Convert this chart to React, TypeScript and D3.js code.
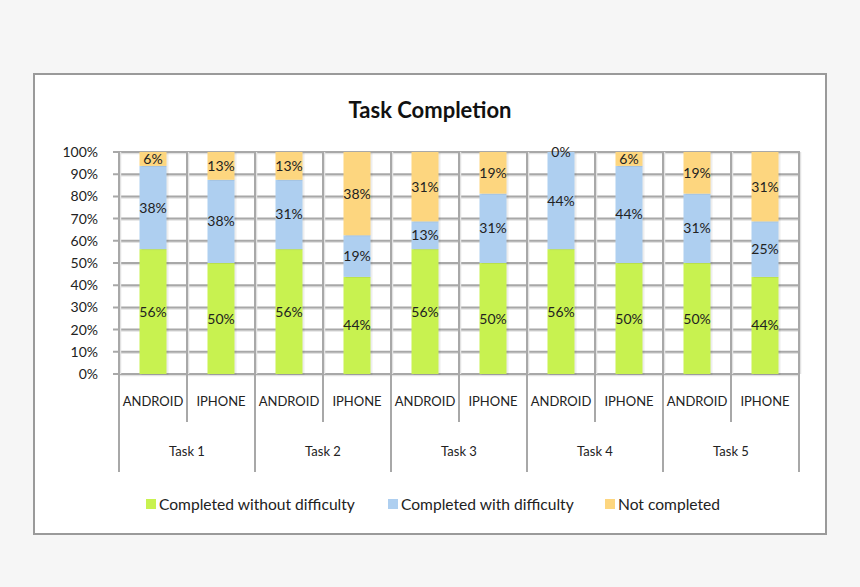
import React, { useEffect, useRef } from 'react';
import * as d3 from 'd3';

const tasks = ['Task 1', 'Task 2', 'Task 3', 'Task 4', 'Task 5'];
const devices = ['ANDROID', 'IPHONE'];
const seriesNames = ['Completed without difficulty', 'Completed with difficulty', 'Not completed'];
const seriesColors = ['#c8f250', '#aecff0', '#fdd67f'];

// percentages per bar, order: task1 android, task1 iphone, task2 android, ...
const withoutDifficulty = [56.25, 50, 56.25, 43.75, 56.25, 50, 56.25, 50, 50, 43.75];
const withDifficulty = [37.5, 37.5, 31.25, 18.75, 12.5, 31.25, 43.75, 43.75, 31.25, 25];
const notCompleted = [6.25, 12.5, 12.5, 37.5, 31.25, 18.75, 0, 6.25, 18.75, 31.25];

const yTicks = [0, 10, 20, 30, 40, 50, 60, 70, 80, 90, 100];

const FONT = 'Lato, "Open Sans", sans-serif';

const App: React.FC = () => {
    const svgRef = useRef<SVGSVGElement | null>(null);

    useEffect(() => {
        if (!svgRef.current) return;
        const svg = d3.select(svgRef.current);
        svg.selectAll('*').remove();

        const width = 860;
        const height = 587;
        const plot = { left: 119, right: 799, top: 152, bottom: 374 };

        svg.attr('width', width).attr('height', height);

        svg.append('rect').attr('width', width).attr('height', height).attr('fill', '#f6f6f6');
        svg.append('rect')
            .attr('x', 34).attr('y', 74).attr('width', 792).attr('height', 460)
            .attr('fill', '#ffffff').attr('stroke', '#9a9a9a').attr('stroke-width', 2);

        svg.append('text')
            .attr('x', 430).attr('y', 118)
            .attr('text-anchor', 'middle')
            .attr('font-family', FONT).attr('font-weight', 'bold').attr('font-size', 22)
            .attr('fill', '#111')
            .text('Task Completion');

        const bars = tasks.flatMap((t, i) => devices.map((d, j) => {
            const k = i * 2 + j;
            return { task: t, device: d, key: `${t}|${d}`, values: [withoutDifficulty[k], withDifficulty[k], notCompleted[k]] };
        }));

        const x = d3.scaleBand<string>()
            .domain(bars.map(b => b.key))
            .range([plot.left, plot.right])
            .paddingInner(0).paddingOuter(0);

        const y = d3.scaleLinear().domain([0, 100]).range([plot.bottom, plot.top]);

        const grid = svg.append('g');
        // shadow + line for the grid
        yTicks.forEach(t => {
            grid.append('line')
                .attr('x1', plot.left).attr('x2', plot.right)
                .attr('y1', y(t) + 1.5).attr('y2', y(t) + 1.5)
                .attr('stroke', '#e2e2e2').attr('stroke-width', 1.5);
            grid.append('line')
                .attr('x1', plot.left - 6).attr('x2', plot.right)
                .attr('y1', y(t)).attr('y2', y(t))
                .attr('stroke', '#a8a8a8').attr('stroke-width', 2);
        });
        const vLines = bars.map(b => x(b.key) as number).concat([plot.right]);
        vLines.forEach(v => {
            grid.append('line')
                .attr('x1', v + 1.5).attr('x2', v + 1.5)
                .attr('y1', plot.top).attr('y2', plot.bottom)
                .attr('stroke', '#e2e2e2').attr('stroke-width', 1.5);
            grid.append('line')
                .attr('x1', v).attr('x2', v)
                .attr('y1', plot.top - 1).attr('y2', plot.bottom)
                .attr('stroke', '#a8a8a8').attr('stroke-width', 2);
        });

        // y axis labels
        svg.append('g')
            .selectAll('text')
            .data(yTicks)
            .enter()
            .append('text')
            .attr('x', 98).attr('y', d => y(d) + 5)
            .attr('text-anchor', 'end')
            .attr('font-family', FONT).attr('font-size', 14)
            .attr('fill', '#222')
            .text(d => `${d}%`);

        const stack = d3.stack<{ values: number[] }, number>()
            .keys([0, 1, 2])
            .value((d, k) => d.values[k]);
        const stacked = stack(bars);

        const barW = 27;
        const bx = (key: string) => (x(key) as number) + (x.bandwidth() - barW) / 2;

        stacked.forEach((layer, si) => {
            const g = svg.append('g');
            layer.forEach((seg, bi) => {
                const b = bars[bi];
                const y0 = y(Math.min(seg[1], 100));
                const y1 = y(seg[0]);
                if (y1 - y0 > 0) {
                    g.append('rect')
                        .attr('x', bx(b.key) + 2).attr('y', y0 + 1)
                        .attr('width', barW).attr('height', y1 - y0)
                        .attr('fill', '#000').attr('opacity', 0.07);
                    g.append('rect')
                        .attr('x', bx(b.key)).attr('y', y0)
                        .attr('width', barW).attr('height', y1 - y0)
                        .attr('fill', seriesColors[si]);
                }
            });
        });

        stacked.forEach(layer => {
            layer.forEach((seg, bi) => {
                const b = bars[bi];
                const mid = (y(Math.min(seg[1], 100)) + y(seg[0])) / 2;
                svg.append('text')
                    .attr('x', (x(b.key) as number) + x.bandwidth() / 2)
                    .attr('y', mid + 5)
                    .attr('text-anchor', 'middle')
                    .attr('font-family', FONT).attr('font-size', 14)
                    .attr('fill', '#222')
                    .text(`${Math.round(seg[1] - seg[0])}%`);
            });
        });

        // category axis
        const axis = svg.append('g');
        bars.forEach((b, i) => {
            const left = x(b.key) as number;
            const isTaskEdge = i % 2 === 0;
            axis.append('line')
                .attr('x1', left).attr('x2', left)
                .attr('y1', plot.bottom).attr('y2', isTaskEdge ? 472 : 422)
                .attr('stroke', '#a8a8a8').attr('stroke-width', 2);
            axis.append('text')
                .attr('x', left + x.bandwidth() / 2).attr('y', 406)
                .attr('text-anchor', 'middle')
                .attr('font-family', FONT).attr('font-size', 13)
                .attr('fill', '#222')
                .text(b.device);
        });
        axis.append('line')
            .attr('x1', plot.right).attr('x2', plot.right)
            .attr('y1', plot.bottom).attr('y2', 472)
            .attr('stroke', '#a8a8a8').attr('stroke-width', 2);
        tasks.forEach((t, i) => {
            const left = x(bars[i * 2].key) as number;
            axis.append('text')
                .attr('x', left + x.bandwidth()).attr('y', 456)
                .attr('text-anchor', 'middle')
                .attr('font-family', FONT).attr('font-size', 13)
                .attr('fill', '#222')
                .text(t);
        });

        // legend
        const legendX = [146, 388, 605];
        const legend = svg.append('g');
        seriesNames.forEach((name, i) => {
            legend.append('rect')
                .attr('x', legendX[i]).attr('y', 499)
                .attr('width', 10).attr('height', 10)
                .attr('fill', seriesColors[i]);
            legend.append('text')
                .attr('x', legendX[i] + 13).attr('y', 510)
                .attr('font-family', FONT).attr('font-size', 15.6)
                .attr('fill', '#222')
                .text(name);
        });
    }, []);

    return <svg ref={svgRef} style={{ position: 'absolute', left: 0, top: 0 }}></svg>;
};

export default App;
